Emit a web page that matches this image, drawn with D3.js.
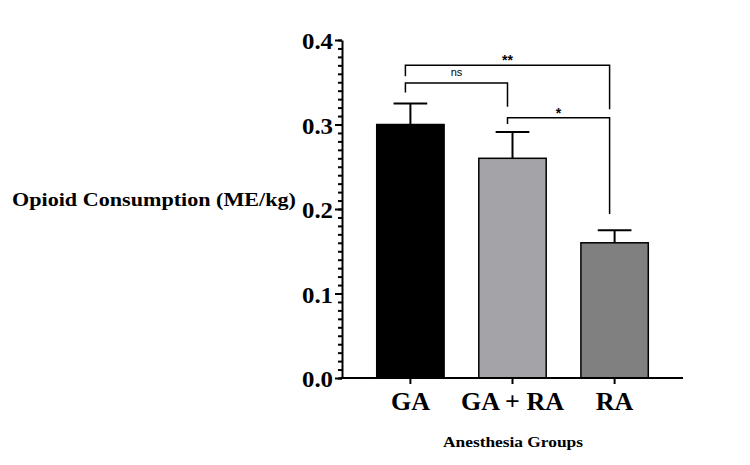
<!DOCTYPE html>
<html>
<head>
<meta charset="utf-8">
<script src="https://cdn.jsdelivr.net/npm/d3@7"></script>
<style>
  html, body { margin: 0; padding: 0; background: #fff; }
  svg { display: block; }
</style>
</head>
<body>
<svg id="chart" width="750" height="465"></svg>
<script>
// ---- data ----
const categories = ["GA", "GA + RA", "RA"];
const means = [0.30, 0.26, 0.16];
const errors = [0.025, 0.031, 0.015];
const barColors = ["#000000", "#a4a3a8", "#808080"];
const yTicks = [0.0, 0.1, 0.2, 0.3, 0.4];
const yTickLabels = ["0.0", "0.1", "0.2", "0.3", "0.4"];
// brackets: from category, to category, bar height, left leg bottom, right leg bottom, label
const bracketFrom = ["GA", "GA", "GA + RA"];
const bracketTo = ["RA", "GA + RA", "RA"];
const bracketTop = [0.370, 0.349, 0.308];
const bracketLeftEnd = [0.357, 0.338, 0.3005];
const bracketRightEnd = [0.318, 0.321, 0.194];
const bracketLabels = ["**", "ns", "*"];

const yTitle = "Opioid Consumption (ME/kg)";
const xTitle = "Anesthesia Groups";

// ---- layout ----
const svg = d3.select("#chart");
const x = d3.scaleBand().domain(categories).range([342, 683]).paddingInner(0.34).paddingOuter(0.34);
const y = d3.scaleLinear().domain([0, 0.4]).range([378, 40]);

const serif = "'Liberation Serif', 'Times New Roman', serif";
const sans = "'Liberation Sans', Arial, sans-serif";

// bars
svg.append("g").selectAll("rect").data(categories).join("rect")
  .attr("x", d => x(d))
  .attr("y", (d, i) => y(means[i]))
  .attr("width", x.bandwidth())
  .attr("height", (d, i) => y(0) - y(means[i]))
  .attr("fill", (d, i) => barColors[i])
  .attr("stroke", "#000")
  .attr("stroke-width", 1.5);

// error bars (upper)
const eg = svg.append("g").attr("stroke", "#000").attr("stroke-width", 2);
categories.forEach((c, i) => {
  const cx = x(c) + x.bandwidth() / 2;
  const capW = x.bandwidth() / 2;
  eg.append("line").attr("x1", cx).attr("x2", cx).attr("y1", y(means[i])).attr("y2", y(means[i] + errors[i]));
  eg.append("line").attr("x1", cx - capW / 2).attr("x2", cx + capW / 2)
    .attr("y1", y(means[i] + errors[i])).attr("y2", y(means[i] + errors[i]));
});

// y axis minor ticks
const minor = d3.range(0, 41).map(v => v / 100);
svg.append("g").attr("transform", "translate(342,0)")
  .call(d3.axisLeft(y).tickValues(minor).tickSize(4).tickFormat(""))
  .call(g => g.select(".domain").remove())
  .call(g => g.selectAll("line").attr("stroke-width", 2));

// y axis major
const yAxis = svg.append("g").attr("transform", "translate(342,0)")
  .call(d3.axisLeft(y).tickValues(yTicks).tickSize(7).tickSizeOuter(0).tickPadding(2)
    .tickFormat((d, i) => yTickLabels[i]));
yAxis.select(".domain").attr("stroke-width", 2);
yAxis.selectAll("line").attr("stroke-width", 2);
yAxis.selectAll("text").attr("font-family", serif).attr("font-weight", "bold")
  .attr("font-size", 24).attr("fill", "#000").attr("dy", "0.36em")
  .attr("textLength", 31).attr("lengthAdjust", "spacingAndGlyphs");

// x axis
const xAxis = svg.append("g").attr("transform", "translate(0,378)")
  .call(d3.axisBottom(x).tickSize(6).tickSizeOuter(0).tickPadding(8));
xAxis.select(".domain").attr("d", "M340,0H683").attr("stroke-width", 2);
xAxis.selectAll("line").attr("stroke-width", 2);
xAxis.selectAll("text").attr("font-family", serif).attr("font-weight", "bold")
  .attr("font-size", 26).attr("fill", "#000");

// titles
svg.append("text").attr("x", 154).attr("y", 206).attr("text-anchor", "middle")
  .attr("font-family", serif).attr("font-weight", "bold").attr("font-size", 19)
  .attr("textLength", 284).attr("lengthAdjust", "spacingAndGlyphs").text(yTitle);
svg.append("text").attr("x", 513).attr("y", 447).attr("text-anchor", "middle")
  .attr("font-family", serif).attr("font-weight", "bold").attr("font-size", 15.5)
  .attr("textLength", 140).attr("lengthAdjust", "spacingAndGlyphs").text(xTitle);

// brackets
const bg = svg.append("g");
bracketLabels.forEach((lab, i) => {
  const x1 = x(bracketFrom[i]) + x.bandwidth() / 2 - 5;
  const x2 = x(bracketTo[i]) + x.bandwidth() / 2 - 5;
  bg.append("path")
    .attr("d", `M${x1},${y(bracketLeftEnd[i])}V${y(bracketTop[i])}H${x2}V${y(bracketRightEnd[i])}`)
    .attr("fill", "none").attr("stroke", "#000").attr("stroke-width", 1.5);
  const isStar = lab.indexOf("*") >= 0;
  bg.append("text").attr("x", (x1 + x2) / 2).attr("y", y(bracketTop[i]) - (isStar ? 0 : 7))
    .attr("text-anchor", "middle").attr("font-family", sans)
    .attr("font-size", isStar ? 14 : 11).attr("font-weight", isStar ? "bold" : "normal")
    .text(lab);
});
</script>
</body>
</html>
